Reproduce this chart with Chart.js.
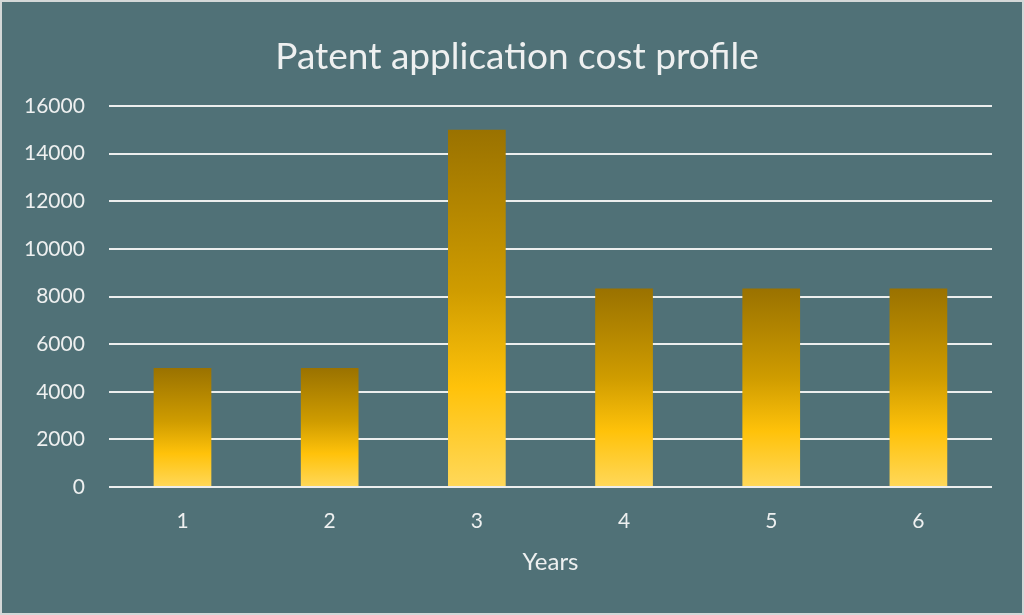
<!DOCTYPE html>
<html>
<head>
<meta charset="utf-8">
<script src="https://cdn.jsdelivr.net/npm/chart.js@4/dist/chart.umd.min.js"></script>
<style>
    html, body { margin: 0; padding: 0; background: #507177; }
    #wrap { width: 1024px; height: 615px; }
</style>
</head>
<body>
<div id="wrap"><canvas id="costChart"></canvas></div>
<script>
const years = ["1", "2", "3", "4", "5", "6"];
const costs = [5000, 5000, 15000, 8333, 8333, 8333];
const yTicks = [0, 2000, 4000, 6000, 8000, 10000, 12000, 14000, 16000];
const chartTitle = "Patent application cost profile";

const textColor = "#eef0f0";
const fontName = "Lato, 'Open Sans', sans-serif";

// each bar gets its own vertical gradient, dark gold at the top
function barGradient(context) {
    const chart = context.chart;
    if (!chart.chartArea || context.dataIndex === undefined) {
        return "#ffc000";
    }
    const y = chart.scales.y;
    const top = y.getPixelForValue(costs[context.dataIndex]);
    const bottom = y.getPixelForValue(0);
    const g = chart.ctx.createLinearGradient(0, top, 0, bottom);
    g.addColorStop(0, "#9a7200");
    g.addColorStop(0.45, "#cf9c00");
    g.addColorStop(0.72, "#ffc20a");
    g.addColorStop(1, "#ffd85a");
    return g;
}

// background, thin border, and the title centred on the whole picture
const frame = {
    id: "frame",
    beforeDraw(chart) {
        const c = chart.ctx;
        c.save();
        c.fillStyle = "#507177";
        c.fillRect(0, 0, chart.width, chart.height);
        c.strokeStyle = "#d4d8d8";
        c.lineWidth = 2;
        c.strokeRect(1, 1, chart.width - 2, chart.height - 2);
        c.restore();
    },
    afterDraw(chart) {
        const c = chart.ctx;
        c.save();
        c.fillStyle = textColor;
        c.font = "37px " + fontName;
        c.textAlign = "center";
        c.textBaseline = "middle";
        c.fillText(chartTitle, chart.width / 2 + 5, 57);
        c.restore();
    }
};

new Chart(document.getElementById("costChart"), {
    type: "bar",
    data: {
        labels: years,
        datasets: [{
            label: "Cost",
            data: costs,
            backgroundColor: barGradient,
            barPercentage: 0.8,
            categoryPercentage: 0.49
        }]
    },
    options: {
        responsive: true,
        maintainAspectRatio: false,
        animation: false,
        layout: { padding: { left: 0, right: 32, top: 106, bottom: 34 } },
        plugins: {
            legend: { display: false },
            tooltip: { enabled: false }
        },
        scales: {
            x: {
                grid: { display: false },
                border: { display: false },
                ticks: { color: textColor, font: { family: fontName, size: 21 }, padding: 14 },
                title: {
                    display: true,
                    text: "Years",
                    color: textColor,
                    font: { family: fontName, size: 24 },
                    padding: { top: 0 }
                }
            },
            y: {
                min: 0,
                max: 16000,
                afterBuildTicks(axis) {
                    axis.ticks = yTicks.map(v => ({ value: v }));
                },
                grid: { color: "#eceeee", lineWidth: 2, drawTicks: false },
                border: { display: false },
                ticks: {
                    color: textColor,
                    font: { family: fontName, size: 21 },
                    padding: 24,
                    callback: v => String(v)
                }
            }
        }
    },
    plugins: [frame]
});
</script>
</body>
</html>
